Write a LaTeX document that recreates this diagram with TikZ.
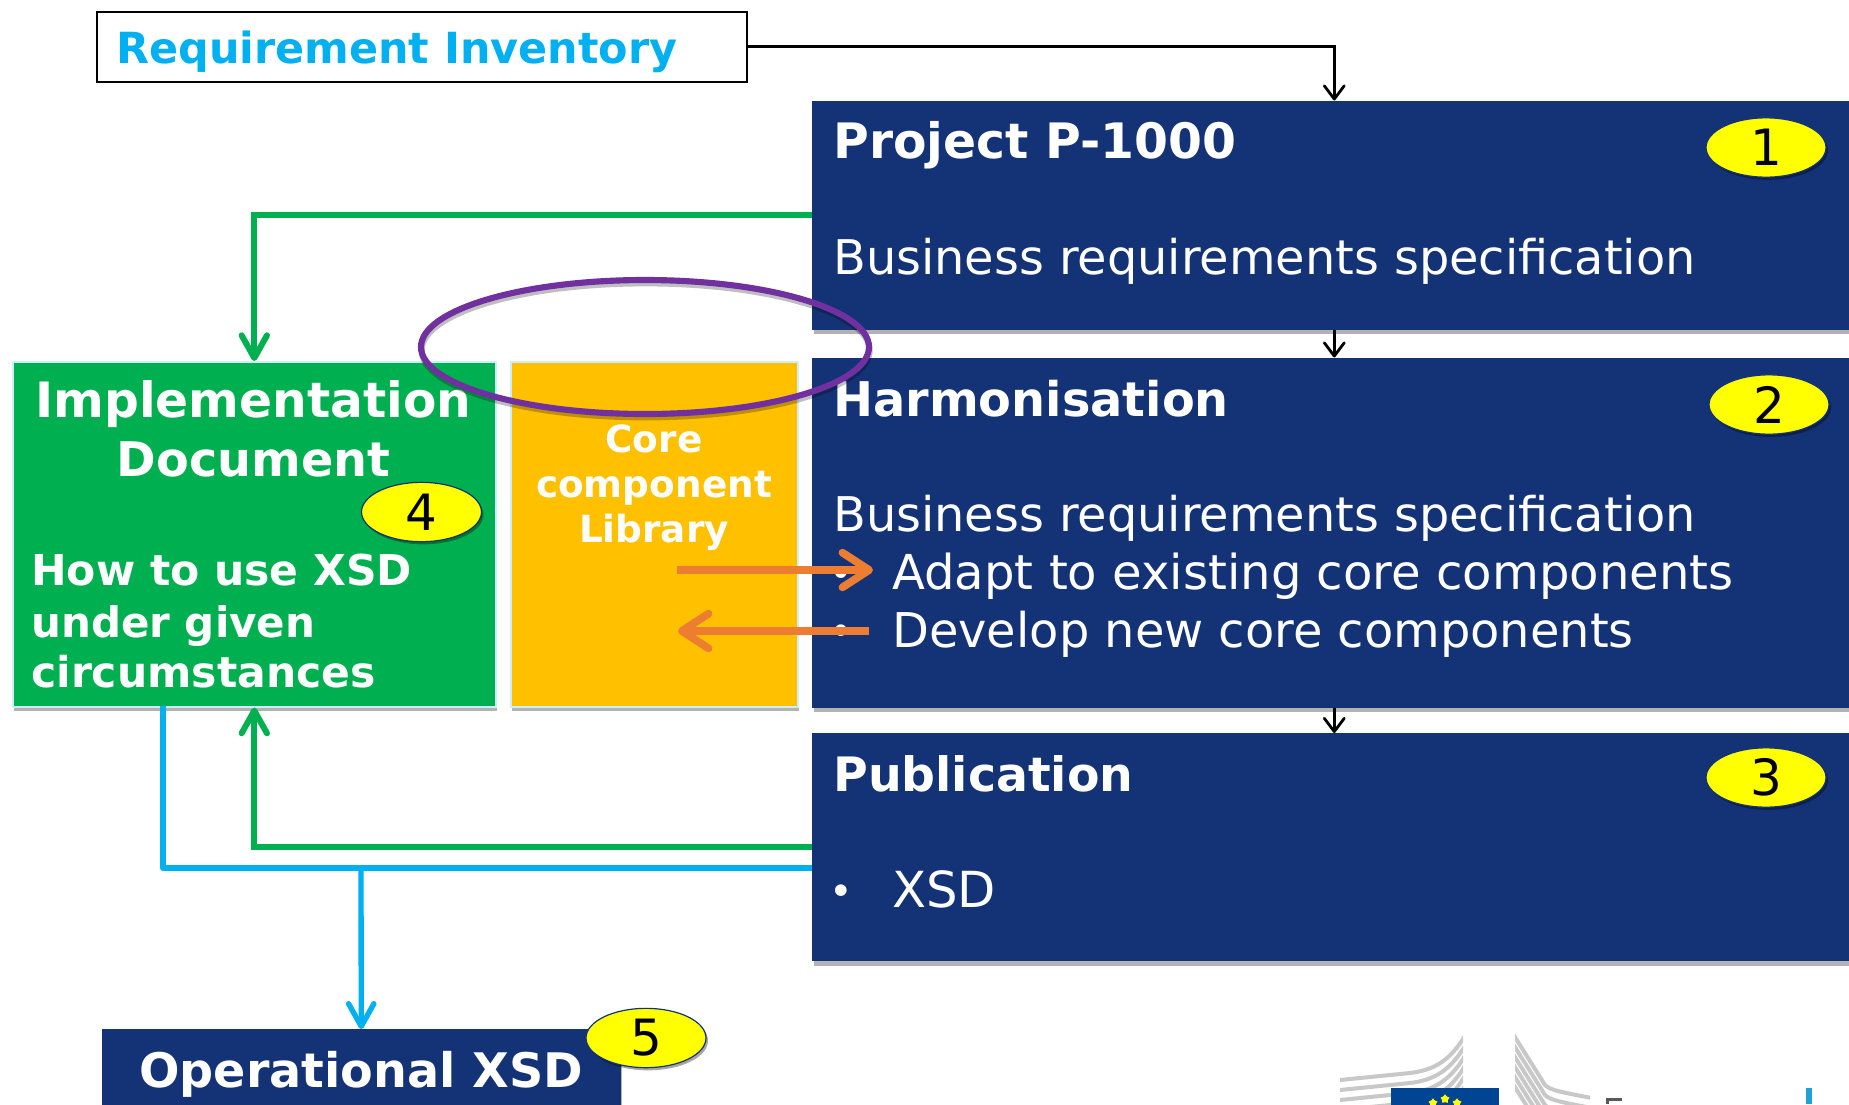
\documentclass[tikz,border=0pt]{standalone}
\usepackage{fontspec}
\setmainfont{DejaVu Sans}
\usetikzlibrary{arrows.meta,shadows,shapes.geometric}
\definecolor{navy}{HTML}{143276}
\definecolor{grn}{HTML}{00B050}
\definecolor{amber}{HTML}{FFC000}
\definecolor{sky}{HTML}{00B0F0}
\definecolor{tang}{HTML}{ED7D31}
\definecolor{purp}{HTML}{7030A0}
\definecolor{logogray}{HTML}{C8C8C8}
\definecolor{yel}{HTML}{FFFF00}
\definecolor{flagblue}{HTML}{004494}
\newcommand{\pxfont}[1]{\pgfmathsetmacro{\tmpfs}{#1*0.75}\fontsize{\tmpfs pt}{\tmpfs pt}\selectfont}
\tikzset{
 x=0.75pt,y=-0.75pt,
 softshadow/.style={general shadow={shadow xshift=1pt,shadow yshift=-3.2pt,fill=black,opacity=.3}},
 panel/.style={fill=navy,inner sep=0,anchor=north west,softshadow},
 sidebox/.style={inner sep=0,anchor=north west,draw=white!80!cyan,line width=1.2pt,softshadow},
 head/.style={text=white,font=\bfseries\pxfont{47.8},anchor=base west,inner sep=0},
 body/.style={text=white,font=\pxfont{47.8},anchor=base west,inner sep=0},
 bull/.style={text=white,font=\pxfont{40},anchor=base west,inner sep=0},
 mid/.style={text=white,font=\bfseries\pxfont{48.7},anchor=base,inner sep=0},
 sub/.style={text=white,font=\bfseries\pxfont{42.5},anchor=base west,inner sep=0},
 core/.style={text=white,font=\bfseries\pxfont{37.4},anchor=base,inner sep=0},
 badge/.style={ellipse,fill=yel,draw=navy,line width=.9pt,inner sep=0,minimum width=90pt,minimum height=44.5pt,
   general shadow={shadow xshift=1.5pt,shadow yshift=-2pt,fill=black,opacity=.35},font=\pxfont{50},text=black},
 flow/.style={draw=black,line width=2.1pt,-{Straight Barb[length=10pt,width=15pt,round]}},
 gline/.style={draw=grn,line width=4.5pt,-{Straight Barb[length=17pt,width=19pt,round]}},
 bline/.style={draw=sky,line width=4.5pt},
 barrow/.style={draw=sky,line width=4pt,-{Straight Barb[length=17pt,width=19pt,round]}},
 oarrow/.style={draw=tang,line width=5.8pt,-{Straight Barb[length=20pt,width=26pt,round]}},
 wave/.style={draw=logogray,line width=3pt},
}
\begin{document}
\begin{tikzpicture}
\useasboundingbox (0,0) rectangle (1849,1104);
\clip (0,0) rectangle (1849,1104);
\fill[white] (0,0) rectangle (1849,1104);

% logo
\begin{scope}
\clip (1340,1030) rectangle (1463,1104);
\foreach \d in {0,10,20,30,40,50}
  \draw[wave] (1340,1080+\d) -- (1410,1073+\d) .. controls (1435,1070+\d) and (1450,1060+\d) .. (1465,1036+\d);
\end{scope}
\begin{scope}
\clip (1515,1030) rectangle (1590,1104);
\foreach \d in {0,10,20,30,40,50}
  \draw[wave] (1513,1034+\d) -- (1545,1085+\d) .. controls (1550,1090+\d) and (1560,1092+\d) .. (1592,1098+\d);
\end{scope}
\fill[flagblue] (1391,1088) rectangle (1499,1110);
\foreach \sx/\sy in {1433/1103,1445/1099,1457/1103}
  \node[star,star points=5,fill=yel,inner sep=0,minimum size=7pt] (st\sx) at (\sx,\sy) {};
\fill[black!65] (1606,1098) rectangle (1622,1101);
\fill[black!65] (1606,1098) rectangle (1609,1104);
\fill[cyan!70!teal] (1806,1088) rectangle (1812,1104);

% panels
\node[panel,minimum width={1044*0.75pt},minimum height={229*0.75pt}] (pa) at (812,100.5) {};
\node[panel,minimum width={1044*0.75pt},minimum height={350*0.75pt}] (pb) at (812,357.5) {};
\node[panel,minimum width={1044*0.75pt},minimum height={228*0.75pt}] (pc) at (812,733) {};
\node[panel,fill=navy,minimum width={519*0.75pt},minimum height={90*0.75pt}] (op) at (101.5,1029) {};
\node[sidebox,fill=grn,minimum width={483*0.75pt},minimum height={345*0.75pt}] (impl) at (12,361) {};
\node[sidebox,fill=amber,minimum width={287*0.75pt},minimum height={345*0.75pt}] (lib) at (510,361) {};
\node[draw=black,line width=1.3pt,fill=white,inner sep=0,anchor=north west,minimum width={650*0.75pt},minimum height={70*0.75pt}] (req) at (96,11) {};

% texts
\node[text=sky,font=\bfseries\pxfont{42.9},anchor=base west,inner sep=0] (treq) at (116,63) {Requirement Inventory};
\node[head,font=\bfseries\pxfont{48.8}] (t1) at (833,158) {Project P-1000};
\node[body] (t1b) at (833,274) {Business requirements specification};
\node[head] (t2) at (833,416) {Harmonisation};
\node[body] (t2b) at (833,531) {Business requirements specification};
\node[body,font=\pxfont{48.1}] (t2c) at (892,589) {Adapt to existing core components};
\node[body,font=\pxfont{47.9}] (t2d) at (892,647) {Develop new core components};
\node[bull] (b1) at (829,587) {•};
\node[bull] (b2) at (829,645) {•};
\node[head,font=\bfseries\pxfont{47.4}] (t3) at (833,791) {Publication};
\node[body,font=\pxfont{49.7}] (t3b) at (892,907) {XSD};
\node[bull] (b3) at (829,905) {•};
\node[mid] (i1) at (253.5,417) {Implementation};
\node[mid,font=\bfseries\pxfont{47.7}] (i2) at (253.5,476) {Document};
\node[sub] (s1) at (31,585) {How to use XSD};
\node[sub,font=\bfseries\pxfont{42}] (s2) at (31,637) {under given};
\node[sub] (s3) at (31,687) {circumstances};
\node[core] (c1) at (654,452) {Core};
\node[core] (c2) at (654,497) {component};
\node[core] (c3) at (654,542) {Library};
\node[mid,font=\bfseries\pxfont{47.6}] (o1) at (361,1087) {Operational XSD};

% connectors
\draw[flow] (req.east) -| (pa.north);
\draw[flow] (pa.south) -- (pb.north);
\draw[flow] (pb.south) -- (pc.north);
\draw[gline] (pa.west) -| (impl.north);
\draw[gline] (pc.west) -| (impl.south);
\coordinate (bstart) at (163,706);
\coordinate (bend) at (812,868);
\coordinate (bbranch) at (361,868);
\draw[bline,line join=round] (bstart) |- (bend);
\draw[barrow] (bbranch) -- (op.north);
\coordinate (oa) at (677,570);
\coordinate (ob) at (873,570);
\coordinate (oc) at (869,631);
\coordinate (od) at (678,631);
\draw[oarrow] (oa) -- (ob);
\draw[oarrow] (oc) -- (od);

% oval
\node[ellipse,draw=purp,line width=4.6pt,inner sep=0,minimum width={448*0.75pt},minimum height={134*0.75pt},
  general shadow={shadow xshift=0.5pt,shadow yshift=-2.5pt,draw=black,fill=none,opacity=.25,line width=4.6pt}] (ov) at (645,347) {};

% badges
\node[badge] (n1) at (1766,147.5) {1};
\node[badge] (n2) at (1769,404.5) {2};
\node[badge] (n3) at (1766,777.5) {3};
\node[badge] (n4) at (421.5,512) {4};
\node[badge] (n5) at (646,1038) {5};
\end{tikzpicture}
\end{document}
